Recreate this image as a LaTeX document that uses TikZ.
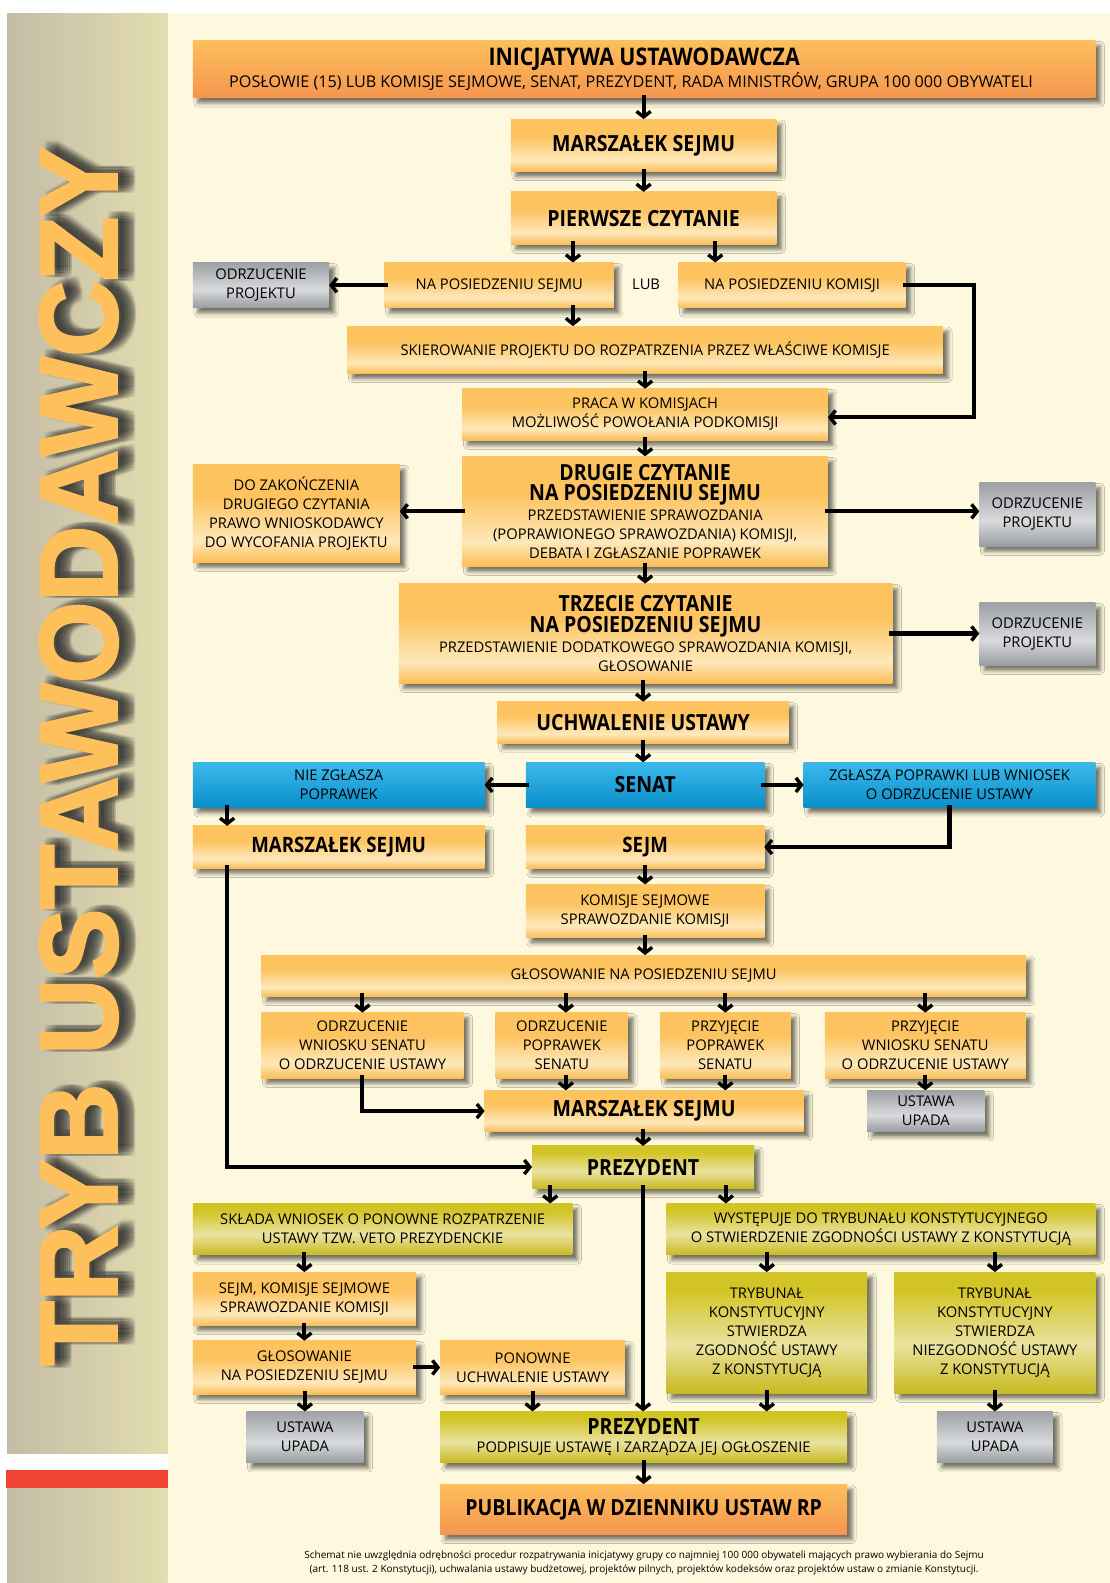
\documentclass[tikz,border=0pt]{standalone}
\usepackage{fontspec}
\setmainfont{Open Sans}
\newfontfamily\tfont{Open Sans}[FakeStretch=0.88]
\newfontfamily\bigfont{Liberation Sans}[BoldFeatures={FakeBold=2.5}]
\usetikzlibrary{arrows.meta,shadows.blur,calc}
\definecolor{cream}{HTML}{FEF9DE}
\definecolor{barL}{HTML}{C4BCA6}
\definecolor{barR}{HTML}{E3DDB0}
\definecolor{redband}{HTML}{EF4433}
\definecolor{titleor}{HTML}{FDC05A}
\definecolor{oTop}{HTML}{FCC35F}
\definecolor{oMid}{HTML}{FEE8BA}
\definecolor{oBot}{HTML}{FBBD54}
\definecolor{bgTop}{HTML}{FDBF5B}
\definecolor{bgBot}{HTML}{F5954E}
\definecolor{blTop}{HTML}{3BB9EA}
\definecolor{blMid}{HTML}{27ACE2}
\definecolor{blBot}{HTML}{0A8FCB}
\definecolor{yTop}{HTML}{D2C424}
\definecolor{yMid}{HTML}{EAE2A0}
\definecolor{yBot}{HTML}{C8BA1E}
\definecolor{gTop}{HTML}{9EA1A5}
\definecolor{gMid}{HTML}{D8DADC}
\definecolor{gBot}{HTML}{999CA0}
\pgfdeclareverticalshading{oshade}{100bp}{color(0bp)=(oBot); color(25bp)=(oBot); color(36bp)=(oMid); color(58bp)=(oTop); color(75bp)=(oTop); color(100bp)=(oTop)}
\pgfdeclareverticalshading{yshade}{100bp}{color(0bp)=(yBot); color(25bp)=(yBot); color(45bp)=(yMid); color(68bp)=(yTop); color(75bp)=(yTop); color(100bp)=(yTop)}
\pgfdeclareverticalshading{gshade}{100bp}{color(0bp)=(gBot); color(25bp)=(gBot); color(45bp)=(gMid); color(75bp)=(gTop); color(100bp)=(gTop)}
\newcommand\nf{\normalfont\fontsize{14.6}{18.7}\selectfont}
\newcommand\tb{\tfont\bfseries\fontsize{22}{23}\selectfont}
\newcommand\tbs{\tfont\bfseries\fontsize{21}{22}\selectfont}
\newcommand\mybox[7]{\node[#1, minimum width={#4-#2}, minimum height={#5-#3}] (#6) at ({(#2+#4)/2},{(#3+#5)/2}) {#7};}
\tikzset{
  box/.style={rectangle, inner sep=2pt, outer sep=0pt, align=center, text=black,
    font=\nf,
    blur shadow={shadow xshift=5pt, shadow yshift=-5pt, shadow blur radius=4pt, shadow opacity=55}},
  obox/.style={box, shading=oshade},
  bigo/.style={box, top color=bgTop, bottom color=bgBot},
  bbox/.style={box, top color=blTop, middle color=blMid, bottom color=blBot},
  ybox/.style={box, shading=yshade},
  gbox/.style={box, shading=gshade},
  arr/.style={draw=black, line width=4pt, -{Straight Barb[length=5.5pt,width=14pt,line width=3.4pt]}, shorten <=-3pt},
}
\begin{document}
\begin{tikzpicture}[x=1pt,y=-1pt]
\useasboundingbox (0,0) rectangle (1099,1568);
\fill[white] (0,0) rectangle (1099,1568);
\fill[cream] (166,13) rectangle (1099,1568);
\shade[left color=barL, right color=barR] (7,13) rectangle (166,1568);
\fill[white] (7,1440) rectangle (166,1456);
\fill[redband] (6,1456) rectangle (166,1474);
% big title with soft shadow
\foreach \dx in {5,7,9,11,13,15,17}
  \foreach \dy in {-7,-4,-1,2}
    \node[rotate=90, inner sep=0pt, text=black!80, text opacity=0.055] at (78+\dx,749+\dy) {\resizebox{1206pt}{76pt}{\bigfont\bfseries TRYB USTAWODAWCZY}};
\node[rotate=90, inner sep=0pt, text=titleor] (title) at (78,749) {\resizebox{1206pt}{76pt}{\bigfont\bfseries TRYB USTAWODAWCZY}};

% boxes
\mybox{bigo}{191}{40}{1085}{97}{init}{\tfont\bfseries\fontsize{24}{25}\selectfont INICJATYWA USTAWODAWCZA\\[1pt] \normalfont\fontsize{16}{19}\selectfont POSŁOWIE (15) LUB KOMISJE SEJMOWE, SENAT, PREZYDENT, RADA MINISTRÓW, GRUPA 100 000 OBYWATELI\hspace*{26pt}}
\mybox{obox}{506}{118}{769}{170}{marsz1}{\tb MARSZAŁEK SEJMU}
\mybox{obox}{506}{190}{769}{242}{pierw}{\tb PIERWSZE CZYTANIE}
\mybox{obox}{381}{260}{608}{305}{npsejm}{NA POSIEDZENIU SEJMU}
\mybox{obox}{672}{260}{897}{305}{npkom}{NA POSIEDZENIU KOMISJI}
\mybox{gbox}{191}{260}{326}{305}{odrz1}{ODRZUCENIE\\PROJEKTU}
\node[font=\nf] (lub) at (640,282) {LUB};
\mybox{obox}{344}{323}{934}{370}{skier}{SKIEROWANIE PROJEKTU DO ROZPATRZENIA PRZEZ WŁAŚCIWE KOMISJE}
\mybox{obox}{458}{385}{820}{436}{praca}{PRACA W KOMISJACH\\MOŻLIWOŚĆ POWOŁANIA PODKOMISJI}
\mybox{obox}{458}{452}{820}{561}{drugie}{\tb DRUGIE CZYTANIE\\[2pt] \tb NA POSIEDZENIU SEJMU\\[1pt] \nf PRZEDSTAWIENIE SPRAWOZDANIA\\ \nf (POPRAWIONEGO SPRAWOZDANIA) KOMISJI,\\ \nf DEBATA I ZGŁASZANIE POPRAWEK}
\mybox{obox}{191}{460}{396}{557}{dozak}{DO ZAKOŃCZENIA\\DRUGIEGO CZYTANIA\\PRAWO WNIOSKODAWCY\\DO WYCOFANIA PROJEKTU}
\mybox{gbox}{970}{478}{1085}{541}{odrz2}{ODRZUCENIE\\PROJEKTU}
\mybox{obox}{395}{578}{884}{677}{trzecie}{\tb TRZECIE CZYTANIE\\[2pt] \tb NA POSIEDZENIU SEJMU\\[1pt] \nf PRZEDSTAWIENIE DODATKOWEGO SPRAWOZDANIA KOMISJI,\\ \nf GŁOSOWANIE}
\mybox{gbox}{970}{597}{1085}{659}{odrz3}{ODRZUCENIE\\PROJEKTU}
\mybox{obox}{493}{695}{781}{736}{uchw}{\tb UCHWALENIE USTAWY}
\mybox{bbox}{521}{755}{757}{800}{senat}{\tb SENAT}
\mybox{bbox}{191}{755}{480}{800}{nie}{NIE ZGŁASZA\\POPRAWEK}
\mybox{bbox}{796}{755}{1085}{800}{zgl}{ZGŁASZA POPRAWKI LUB WNIOSEK\\O ODRZUCENIE USTAWY}
\mybox{obox}{191}{818}{480}{860}{marsz2}{\tbs MARSZAŁEK SEJMU}
\mybox{obox}{521}{818}{757}{860}{sejm}{\tbs SEJM}
\mybox{obox}{521}{876}{757}{929}{komis}{KOMISJE SEJMOWE\\SPRAWOZDANIE KOMISJI}
\mybox{obox}{259}{946}{1016}{987}{glos}{GŁOSOWANIE NA POSIEDZENIU SEJMU}
\mybox{obox}{259}{1003}{459}{1068}{ow}{ODRZUCENIE\\WNIOSKU SENATU\\O ODRZUCENIE USTAWY}
\mybox{obox}{491}{1003}{622}{1068}{op}{ODRZUCENIE\\POPRAWEK\\SENATU}
\mybox{obox}{654}{1003}{783}{1068}{pp}{PRZYJĘCIE\\POPRAWEK\\SENATU}
\mybox{obox}{817}{1003}{1016}{1068}{pw}{PRZYJĘCIE\\WNIOSKU SENATU\\O ODRZUCENIE USTAWY}
\mybox{obox}{480}{1080}{796}{1121}{marsz3}{\tb MARSZAŁEK SEJMU}
\mybox{gbox}{859}{1080}{975}{1121}{upada1}{USTAWA\\UPADA}
\mybox{ybox}{527}{1135}{747}{1177}{prez1}{\tb PREZYDENT}
\mybox{ybox}{191}{1192}{567}{1243}{sklada}{SKŁADA WNIOSEK O PONOWNE ROZPATRZENIE\\USTAWY TZW. VETO PREZYDENCKIE}
\mybox{ybox}{660}{1192}{1085}{1243}{wyst}{WYSTĘPUJE DO TRYBUNAŁU KONSTYTUCYJNEGO\\O STWIERDZENIE ZGODNOŚCI USTAWY Z KONSTYTUCJĄ}
\mybox{obox}{191}{1260}{412}{1313}{sejmk}{SEJM, KOMISJE SEJMOWE\\SPRAWOZDANIE KOMISJI}
\mybox{obox}{191}{1328}{412}{1381}{glos2}{GŁOSOWANIE\\NA POSIEDZENIU SEJMU}
\mybox{obox}{436}{1328}{619}{1381}{ponow}{PONOWNE\\UCHWALENIE USTAWY}
\mybox{gbox}{244}{1398}{360}{1449}{upada2}{USTAWA\\UPADA}
\mybox{ybox}{660}{1260}{859}{1380}{tk1}{TRYBUNAŁ\\KONSTYTUCYJNY\\STWIERDZA\\ZGODNOŚĆ USTAWY\\Z KONSTYTUCJĄ}
\mybox{ybox}{886}{1260}{1085}{1380}{tk2}{TRYBUNAŁ\\KONSTYTUCYJNY\\STWIERDZA\\NIEZGODNOŚĆ USTAWY\\Z KONSTYTUCJĄ}
\mybox{ybox}{436}{1398}{839}{1449}{prez2}{\tb PREZYDENT\\[-1pt] \nf PODPISUJE USTAWĘ I ZARZĄDZA JEJ OGŁOSZENIE}
\mybox{gbox}{928}{1398}{1043}{1449}{upada3}{USTAWA\\UPADA}
\mybox{bigo}{436}{1470}{839}{1520}{publ}{\tb PUBLIKACJA W DZIENNIKU USTAW RP}

\node[font=\fontsize{9.9}{13.8}\selectfont, align=center, inner sep=0pt] (note) at (638,1548) {Schemat nie uwzględnia odrębności procedur rozpatrywania inicjatywy grupy co najmniej 100 000 obywateli mających prawo wybierania do Sejmu\\(art. 118 ust. 2 Konstytucji), uchwalania ustawy budżetowej, projektów pilnych, projektów kodeksów oraz projektów ustaw o zmianie Konstytucji.};

% connectors
\draw[arr] (init.south -| marsz1.north) -- (marsz1.north);
\draw[arr] (marsz1.south) -- (pierw.north);
\draw[arr] ([xshift=-70]pierw.south) -- ([xshift=-70]pierw.south |- npsejm.north);
\draw[arr] ([xshift=71]pierw.south) -- ([xshift=71]pierw.south |- npkom.north);
\draw[arr] (npsejm.west) -- (odrz1.east);
\draw[arr] ([xshift=73]npsejm.south) -- ([xshift=73]npsejm.south |- skier.north);
\draw[arr] (skier.south -| praca.north) -- (praca.north);
\draw[arr] (npkom.east) -- ++(68,0) |- ([yshift=-3pt]praca.east);
\draw[arr] (praca.south) -- (drugie.north);
\draw[arr] (drugie.west) -- (drugie.west -| dozak.east);
\draw[arr] (drugie.east) -- (drugie.east -| odrz2.west);
\draw[arr] (drugie.south) -- (drugie.south |- trzecie.north);
\draw[arr] (trzecie.east) -- (trzecie.east -| odrz3.west);
\draw[arr] (trzecie.south -| uchw.north) -- (uchw.north);
\draw[arr] (uchw.south) -- (uchw.south |- senat.north);
\draw[arr] (senat.west) -- (nie.east);
\draw[arr] (senat.east) -- (zgl.west);
\draw[arr] ([xshift=34]nie.south west) -- ([xshift=34]marsz2.north west);
\draw[arr] (zgl.south) |- (sejm.east);
\draw[arr] (sejm.south) -- (komis.north);
\draw[arr] (komis.south) -- (komis.south |- glos.north);
\draw[arr] (glos.south -| ow.north) -- (ow.north);
\draw[arr] ([xshift=4]glos.south -| op.north) -- ([xshift=4]op.north);
\draw[arr] (glos.south -| pp.north) -- (pp.north);
\draw[arr] (glos.south -| pw.north) -- (pw.north);
\draw[arr] (ow.south) |- (marsz3.west);
\draw[arr] ([xshift=4]op.south) -- ([xshift=4]op.south |- marsz3.north);
\draw[arr] (pp.south) -- (pp.south |- marsz3.north);
\draw[arr] (pw.south) -- (pw.south |- upada1.north);
\draw[arr] (marsz3.south -| prez1.north) -- (prez1.north);
\draw[arr] ([xshift=34]marsz2.south west) |- (prez1.west);
\draw[arr] ([xshift=-92]prez1.south) -- ([xshift=-92]prez1.south |- sklada.north);
\draw[arr] ([xshift=82]prez1.south) -- ([xshift=82]prez1.south |- wyst.north);
\draw[arr] (prez1.south) -- (prez1.south |- prez2.north);
\draw[arr] (sklada.south -| sejmk.north) -- (sejmk.north);
\draw[arr] (sejmk.south) -- (glos2.north);
\draw[arr] (glos2.east) -- (ponow.west);
\draw[arr] (glos2.south -| upada2.north) -- (upada2.north);
\draw[arr] (ponow.south) -- (ponow.south |- prez2.north);
\draw[arr] (wyst.south -| tk1.north) -- (tk1.north);
\draw[arr] (wyst.south -| tk2.north) -- (tk2.north);
\draw[arr] (tk1.south) -- (tk1.south |- prez2.north);
\draw[arr] (tk2.south) -- (tk2.south |- upada3.north);
\draw[arr] (prez2.south) -- (publ.north);
\end{tikzpicture}
\end{document}
